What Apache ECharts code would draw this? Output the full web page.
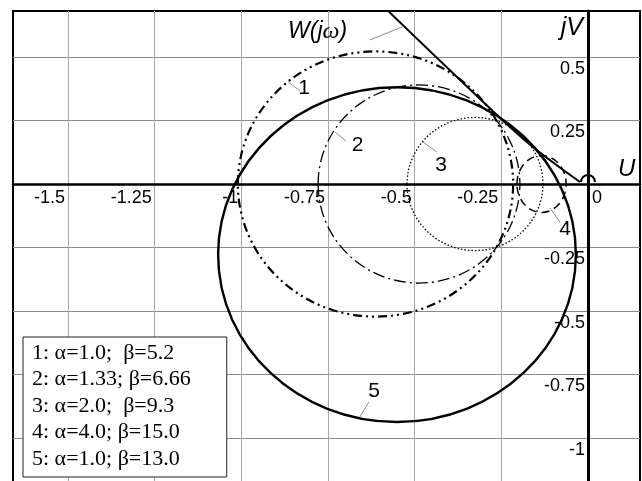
<!DOCTYPE html>
<html>
<head>
<meta charset="utf-8">
<script src="https://cdn.jsdelivr.net/npm/echarts@6/dist/echarts.min.js"></script>
<style>
html, body { margin: 0; padding: 0; background: #fff; }
#chart { width: 642px; height: 481px; }
</style>
</head>
<body>
<div id="chart"></div>
<script>
// Family of circle criteria in the (U, jV) plane: centre and half-axes of each curve
const curveNames = ['1: α=1.0;  β=5.2', '2: α=1.33; β=6.66', '3: α=2.0;  β=9.3', '4: α=4.0; β=15.0', '5: α=1.0; β=13.0'];
const centerU = [-0.613, -0.4875, -0.326, -0.134, -0.551];
const centerV = [0, 0, 0, 0, -0.278];
const halfU = [0.397, 0.291, 0.196, 0.071, 0.516];
const halfV = [0.522, 0.390, 0.262, 0.112, 0.659];

// Frequency response W(jω) approaching the origin
const wU = [-0.609, -0.2625, -0.1587, -0.0231];
const wV = [0.724, 0.2717, 0.1457, 0.0079];
// small indentation round the origin: centre U, centre V, radius (U units)
const originArc = [0, 0.008, 0.02];

// Axis ticks and extents
const uTicks = [-1.5, -1.25, -1, -0.75, -0.5, -0.25];
const vTicks = [0.5, 0.25, -0.25, -0.5, -0.75, -1];
const uMin = -1.6587, uMax = 0.15;
const vMin = -1.2087, vMax = 0.6811;

// Callouts: text, text anchor, leader segment
const tagText = ['W(jω)', '1', '2', '3', '4', '5'];
const tagU = [-0.780, -0.819, -0.665, -0.424, -0.066, -0.617];
const tagV = [0.598, 0.378, 0.152, 0.073, -0.177, -0.815];
const leaderFromU = [-0.629, -0.865, -0.730, -0.476, -0.110, -0.658];
const leaderFromV = [0.567, 0.402, 0.205, 0.165, -0.094, -0.917];
const leaderToU = [-0.537, -0.831, -0.698, -0.436, -0.081, -0.632];
const leaderToV = [0.618, 0.366, 0.169, 0.126, -0.150, -0.858];

// Stroke style of each curve
const curveStyles = [
  { lineWidth: 2.2, lineDash: [9, 4, 2, 4, 2, 4] },
  { lineWidth: 1.3, lineDash: [12, 4, 2, 4] },
  { lineWidth: 1.3, lineDash: [1.5, 2] },
  { lineWidth: 1.5, lineDash: [8, 5] },
  { lineWidth: 2.4, lineDash: null }
];

const sans = 'Liberation Sans, Arial, sans-serif';
const serif = 'Liberation Serif, Times New Roman, serif';

const chart = echarts.init(document.getElementById('chart'), null, { renderer: 'canvas' });

const curveSeries = curveNames.map((name, i) => ({
  type: 'custom',
  name: name,
  coordinateSystem: 'cartesian2d',
  silent: true,
  clip: true,
  z: 3,
  data: [[centerU[i], centerV[i], halfU[i], halfV[i]]],
  encode: { x: 0, y: 1 },
  renderItem: (params, api) => {
    const c = api.coord([api.value(0), api.value(1)]);
    const s = api.size([api.value(2), api.value(3)]);
    return {
      type: 'ellipse',
      shape: { cx: c[0], cy: c[1], rx: s[0], ry: s[1] },
      style: {
        fill: 'none',
        stroke: '#000',
        lineWidth: curveStyles[i].lineWidth,
        lineDash: curveStyles[i].lineDash
      }
    };
  }
}));

const tickFont = { fontFamily: sans, fontSize: 18, color: '#000', formatter: v => String(v) };

const option = {
  animation: false,
  backgroundColor: '#fff',
  grid: {
    left: 13, right: 2, top: 11, bottom: -10,
    show: true, borderColor: '#000', borderWidth: 2,
    containLabel: false, outerBoundsMode: 'none'
  },
  legend: {
    data: curveNames,
    orient: 'vertical',
    left: 23, top: 337,
    icon: 'none',
    itemWidth: 0, itemHeight: 22, itemGap: 4.5,
    padding: [5, 36, 7, 4],
    backgroundColor: '#fff',
    borderColor: '#222', borderWidth: 1,
    selectedMode: false,
    textStyle: { fontFamily: serif, fontSize: 22, color: '#000' }
  },
  xAxis: [{
    type: 'value', min: uMin, max: uMax, position: 'bottom', offset: 0,
    name: 'U', nameLocation: 'end', nameGap: -22, nameMoveOverlap: false,
    nameTextStyle: { fontFamily: sans, fontStyle: 'italic', fontSize: 24, color: '#000',
      align: 'left', verticalAlign: 'bottom', padding: [0, 0, 3, 0] },
    axisLine: { show: true, onZero: false, lineStyle: { color: '#000', width: 2.5 } },
    axisTick: { show: false, customValues: uTicks },
    axisLabel: Object.assign({ customValues: uTicks, align: 'right', padding: [0, 3, 0, 0], margin: 5 }, tickFont),
    splitLine: { show: true, lineStyle: { color: '#a8a8a8', width: 1 } }
  }, {
    type: 'value', min: uMin, max: uMax, position: 'bottom', offset: 0,
    axisLine: { show: false, onZero: false },
    axisTick: { show: false, customValues: [0] },
    axisLabel: Object.assign({ customValues: [0], align: 'left', padding: [0, 0, 0, 4], margin: 5 }, tickFont),
    splitLine: { show: false }
  }],
  yAxis: {
    type: 'value', min: vMin, max: vMax, position: 'left', offset: 0,
    name: 'jV', nameLocation: 'end', nameGap: -5, nameMoveOverlap: false,
    nameTextStyle: { fontFamily: sans, fontStyle: 'italic', fontSize: 25, color: '#000',
      align: 'right', verticalAlign: 'top', padding: [0, 5, 0, 0] },
    axisLine: { show: true, onZero: false, lineStyle: { color: '#000', width: 3 } },
    axisTick: { show: false, customValues: vTicks },
    axisLabel: Object.assign({ customValues: vTicks, margin: 3, verticalAlign: 'top', padding: [3, 0, 0, 0] }, tickFont),
    splitLine: { show: true, lineStyle: { color: '#8a8a8a', width: 1 } }
  },
  series: [
    ...curveSeries,
    {
      type: 'line',
      name: 'W(jω)',
      data: wU.map((u, i) => [u, wV[i]]),
      symbol: 'none',
      smooth: 0.35,
      clip: true,
      silent: true,
      z: 4,
      lineStyle: { color: '#000', width: 2 }
    },
    {
      type: 'custom',
      name: 'origin',
      coordinateSystem: 'cartesian2d',
      silent: true,
      z: 4,
      data: [originArc],
      encode: { x: 0, y: 1 },
      renderItem: (params, api) => {
        const c = api.coord([api.value(0), api.value(1)]);
        const r = api.size([api.value(2), 0])[0];
        return {
          type: 'arc',
          shape: { cx: c[0], cy: c[1], r: r, startAngle: Math.PI, endAngle: 2 * Math.PI, clockwise: true },
          style: { fill: 'none', stroke: '#000', lineWidth: 2 }
        };
      }
    },
    {
      type: 'custom',
      name: 'callouts',
      coordinateSystem: 'cartesian2d',
      silent: true,
      z: 5,
      data: tagText.map((t, i) => [tagU[i], tagV[i], leaderFromU[i], leaderFromV[i], leaderToU[i], leaderToV[i]]),
      encode: { x: 0, y: 1 },
      renderItem: (params, api) => {
        const i = params.dataIndex;
        const p = api.coord([api.value(0), api.value(1)]);
        const a = api.coord([api.value(2), api.value(3)]);
        const b = api.coord([api.value(4), api.value(5)]);
        const textStyle = i === 0 ? {
          text: '{a|W(j}{b|ω}{a|)}',
          rich: {
            a: { fontFamily: sans, fontStyle: 'italic', fontSize: 23, fill: '#000' },
            b: { fontFamily: serif, fontStyle: 'italic', fontSize: 24, fill: '#000' }
          },
          align: 'center', verticalAlign: 'middle'
        } : {
          text: tagText[i],
          fontFamily: sans, fontSize: 21, fill: '#000',
          align: 'center', verticalAlign: 'middle'
        };
        return {
          type: 'group',
          children: [
            { type: 'line', shape: { x1: a[0], y1: a[1], x2: b[0], y2: b[1] },
              style: { stroke: '#8c8c8c', lineWidth: 1 } },
            { type: 'text', x: p[0], y: p[1], style: textStyle }
          ]
        };
      }
    }
  ]
};

chart.setOption(option);

// Move the U and jV axes (line and tick labels) onto the origin, measured through the axis scales
const x0 = chart.convertToPixel({ xAxisIndex: 0 }, 0);
const xLeft = chart.convertToPixel({ xAxisIndex: 0 }, uMin);
const y0 = chart.convertToPixel({ yAxisIndex: 0 }, 0);
const yBottom = chart.convertToPixel({ yAxisIndex: 0 }, vMin);
chart.setOption({
  xAxis: [{ offset: -(yBottom - y0) }, { offset: -(yBottom - y0) }],
  yAxis: { offset: -(x0 - xLeft) }
});
</script>
</body>
</html>
